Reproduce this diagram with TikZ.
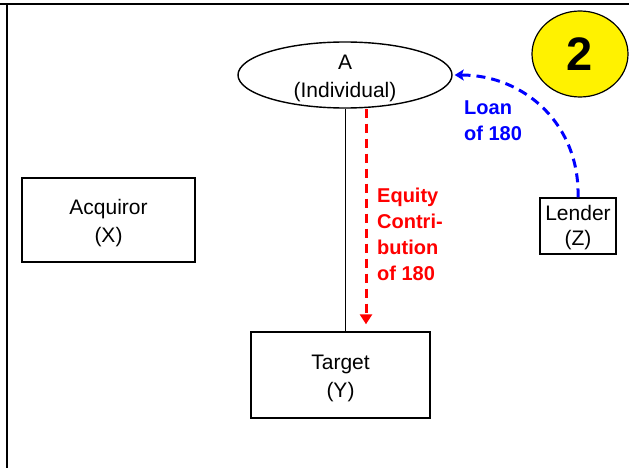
\documentclass[tikz,border=0pt]{standalone}
\usepackage{fontspec}
\setmainfont{Liberation Sans}
\usetikzlibrary{shapes.geometric,arrows.meta}
\begin{document}
\begin{tikzpicture}[
        x=1pt, y=-1pt,
        two_line/.style={align=center, font=\fontsize{21}{28}\selectfont, text height=49pt, text depth=4.5pt},
        box_style/.style={two_line, draw=black, line width=1.4pt, rectangle, inner sep=0pt},
        ind_style/.style={two_line, draw=black, line width=1.4pt, ellipse, inner xsep=0pt, inner ysep=-6pt},
        flow_style/.style={line width=3pt, dash pattern=on 9pt off 6pt},
        amount_style/.style={align=left, inner sep=0pt, font=\fontsize{20}{26}\selectfont\bfseries}
    ]
        \useasboundingbox (0,0) rectangle (629,468);

        % Frame
        \draw[line width=2.6pt] (0,4) -- (629,4);
        \draw[line width=2.6pt] (7,4) -- (7,468);

        % Nodes
        \node[ind_style, minimum width=214pt, minimum height=66pt] (ind) at (345,75) {A\\(Individual)};
        \node[box_style, minimum width=173pt, minimum height=84pt] (acq) at (108.5,220) {Acquiror\\(X)};
        \node[box_style, minimum width=179pt, minimum height=86pt] (tgt) at (340.5,375) {Target\\(Y)};
        \node[box_style, minimum width=76pt, minimum height=56pt, font=\fontsize{21}{25}\selectfont,
              text height=43.5pt] (lend) at (578,226) {Lender\\(Z)};
        \node[draw=black, line width=1.2pt, fill=yellow, ellipse, minimum width=96pt, minimum height=86pt,
              font=\fontsize{47}{47}\selectfont\bfseries] (step_no) at (580,54) {\raisebox{-2pt}{2}};

        % Ownership
        \draw[line width=1pt] (ind.south) -- (ind.south |- tgt.north);

        % Equity contribution
        \draw[flow_style, red, -{Triangle[width=12pt,length=10pt]}, shorten >=7pt]
            ([xshift=21pt]ind.south) -- ([xshift=21pt]ind.south |- tgt.north);
        \node[amount_style, red, anchor=west] (equity_lbl) at (377,234) {Equity\\Contri-\\bution\\of 180};

        % Loan
        \draw[flow_style, blue, -{Stealth[width=11pt,length=9pt,inset=2pt]}, shorten >=2pt]
            (lend.north) .. controls (580,125) and (525,75) .. (ind.east);
        \node[amount_style, blue, anchor=west] (loan_lbl) at (464,121) {Loan\\of 180};
    \end{tikzpicture}
\end{document}
